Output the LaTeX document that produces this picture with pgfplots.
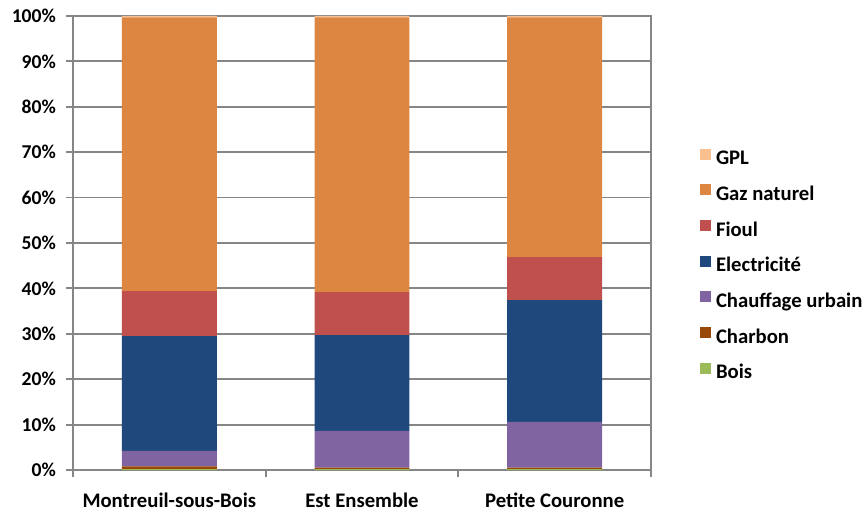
\documentclass[border=0pt]{standalone}
\usepackage{pgfplots}
\pgfplotsset{compat=1.18}
\usepackage{pgfplotstable}
\usepackage{fontspec}
\setmainfont{Carlito}

\definecolor{cGPL}{HTML}{FAC090}
\definecolor{cGaz}{HTML}{DD8641}
\definecolor{cFioul}{HTML}{C0504D}
\definecolor{cElec}{HTML}{1F497D}
\definecolor{cChauf}{HTML}{8064A2}
\definecolor{cCharbon}{HTML}{984807}
\definecolor{cBois}{HTML}{9BBB59}
\definecolor{gridgray}{HTML}{868686}

% Share of each heating energy (%), by territory
\pgfplotstableread{
x Bois Charbon Chauffage Elec Fioul Gaz GPL
0 0.2 0.6 3.4 25.3 9.9 60.3 0.3
1 0.2 0.3 8.1 21.1 9.5 60.5 0.3
2 0.2 0.3 10.1 26.8 9.5 52.8 0.3
}\energie

\newcommand\lblfont{\fontsize{20.7bp}{24bp}\selectfont\bfseries}
\newcommand\yfont{\fontsize{19.6bp}{23bp}\selectfont\bfseries}

\pgfplotsset{
  seg/.style={fill=#1, draw=none,
    legend image code/.code={\fill[fill=#1] (0bp,0.5bp) rectangle (11bp,11.5bp);}},
}

\begin{document}
\lblfont
\begin{tikzpicture}
\useasboundingbox (-73bp,-42bp) rectangle (790bp,470bp);
\begin{axis}[
  at={(0,0)}, anchor=south west,
  scale only axis, width=578bp, height=454bp,
  ybar stacked, bar width=0.493,
  xmin=-0.5, xmax=2.5, ymin=0, ymax=100,
  xtick={0,1,2},
  xticklabels={Montreuil-sous-Bois, Est Ensemble, Petite Couronne},
  minor xtick={-0.5,0.5,1.5,2.5},
  major x tick style={draw=none},
  ytick={0,10,...,100},
  yticklabels={0\%,10\%,20\%,30\%,40\%,50\%,60\%,70\%,80\%,90\%,100\%},
  tick pos=left, tick align=outside,
  major tick length=7bp, minor tick length=7bp,
  tick style={gridgray, line width=1.8bp},
  axis line style={gridgray, line width=1.8bp},
  ymajorgrids, grid style={gridgray, line width=1.8bp},
  xticklabel style={font=\lblfont, yshift=-9bp},
  yticklabel style={font=\yfont, xshift=-3bp},
  reverse legend,
  legend cell align=left,
  legend style={draw=none, fill=none, font=\lblfont,
    at={(1,0.4493)}, anchor=west, xshift=49bp,
    inner sep=0pt, outer sep=0pt, row sep=15.2bp, column sep=5bp,
    nodes={inner sep=0pt, text height=13.5bp, text depth=4.5bp}},
]
\addplot[seg=cBois]     table[x=x, y=Bois]      {\energie};
\addplot[seg=cCharbon]  table[x=x, y=Charbon]   {\energie};
\addplot[seg=cChauf]    table[x=x, y=Chauffage] {\energie};
\addplot[seg=cElec]     table[x=x, y=Elec]      {\energie};
\addplot[seg=cFioul]    table[x=x, y=Fioul]     {\energie};
\addplot[seg=cGaz]      table[x=x, y=Gaz]       {\energie};
\addplot[seg=cGPL]      table[x=x, y=GPL]       {\energie};
\legend{Bois, Charbon, Chauffage urbain, Electricité, Fioul, Gaz naturel, GPL}
\end{axis}
\end{tikzpicture}
\end{document}
